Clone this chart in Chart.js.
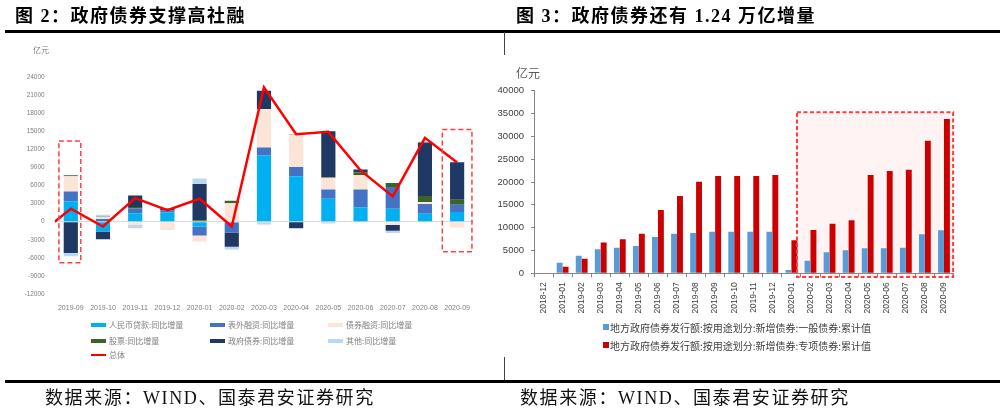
<!DOCTYPE html>
<html><head><meta charset="utf-8">
<script src="https://cdn.jsdelivr.net/npm/chart.js@4/dist/chart.umd.min.js"></script>
<style>
html,body{margin:0;padding:0;background:#fff;}
#wrap{position:relative;width:1000px;height:413px;overflow:hidden;font-family:"Liberation Sans","Noto Sans CJK SC",sans-serif;}
canvas{position:absolute;top:0;}
.abs{position:absolute;white-space:nowrap;}
.title{top:6px;font-family:"Liberation Serif","Noto Sans CJK SC",serif;font-weight:700;font-size:18px;letter-spacing:1.5px;line-height:20px;color:#000;}
.src{top:387px;font-family:"Liberation Serif","Noto Sans CJK SC",serif;font-size:18px;line-height:22px;color:#111;letter-spacing:1.6px;}
.rule{background:#000;}
.vline{background:#444;width:1px;}
</style></head>
<body><div id="wrap">
<canvas id="left" width="480" height="413" style="left:0"></canvas>
<canvas id="right" width="520" height="413" style="left:480px"></canvas>
<div class="abs title" style="left:15px">图 2：政府债券支撑高社融</div>
<div class="abs title" style="left:516px">图 3：政府债券还有 1.24 万亿增量</div>
<div class="abs rule" style="left:5px;top:30px;width:995px;height:3px"></div>
<div class="abs vline" style="left:504px;top:32px;height:23px"></div>
<div class="abs vline" style="left:504px;top:357px;height:24px"></div>
<div class="abs rule" style="left:5px;top:380px;width:995px;height:3px"></div>
<div class="abs src" style="left:45px">数据来源：WIND、国泰君安证券研究</div>
<div class="abs src" style="left:520px">数据来源：WIND、国泰君安证券研究</div>
<div class="abs" style="left:33px;top:44px;font-size:8px;color:#7f7f7f;font-family:'Noto Sans CJK SC'">亿元</div>
<div class="abs" style="left:516px;top:64px;font-size:12px;color:#595959;font-family:'Noto Sans CJK SC'">亿元</div>
<div id="legL"></div>
<div id="legR"></div>
</div>
<script>
// ---------- Left chart data (亿元, 同比增量) ----------
const leftCategories = ['2019-09','2019-10','2019-11','2019-12','2020-01','2020-02','2020-03','2020-04','2020-05','2020-06','2020-07','2020-08','2020-09'];
const loans      = [3400,-1650, 1400, 1550, -800, -150,11000, 7550, 3800, 2400, 2150, 1300, 1600];
const offBalance = [1600,  450,  800,  300,-1500,-1650, 1300, 1500, 1550, 2950, 3600, 1650, 1200];
const bondFin    = [2550,  300, -550,-1250,-1000, 3050, 6400, 5400, 1950, 2350, -550,  300, -950];
const equity     = [ 150,   50,  250,    0,  200,  400,    0,  100,  100,  450,  650, 1000,  850];
const govBonds   = [-5200,-1250,1900,  350, 6050,-2350, 3000,-1050, 7600,  500, -950, 8900, 6200];
const others     = [-550,  350, -550, -100,  900, -450, -450, -150, -300, -100, -400,  150,    0];
const total      = [2150, -800, 3900, 1900, 3800, -800,22300,14500,14900, 8500, 4200,13900, 9800];
const totalLeadIn = 0;   // line starts from zero at the left edge of the plot
const leftYTicks = {min:-12000, max:24000, step:3000};
const leftHighlights = [
  {from:-0.37, to:0.31, top:13400, bottom:-6800},
  {from:11.54, to:12.46, top:15300, bottom:-5000}
];

// ---------- Right chart data (亿元, 累计值) ----------
const rightCategories = ['2018-12','2019-01','2019-02','2019-03','2019-04','2019-05','2019-06','2019-07','2019-08','2019-09','2019-10','2019-11','2019-12','2020-01','2020-02','2020-03','2020-04','2020-05','2020-06','2020-07','2020-08','2020-09'];
const generalBonds = [0,2300,3870,5250,5620,5980,7950,8690,8830,9120,9120,9120,9120, 730,2770, 4600, 5040, 5470, 5470, 5620, 8540, 9420];
const specialBonds = [0,1450,3210,6720,7450,8690,13870,16930,20070,21310,21310,21310,21530,7230,9490,10880,11610,21530,22410,22700,29050,33800];
const rightYTicks = {min:0, max:40000, step:5000};
const rightHighlights = [{from:13.29, to:21.48, top:35300, bottom:-800}];

const leftSeries = [
  {name:'人民币贷款:同比增量', data:loans, color:'#00b0f0'},
  {name:'表外融资:同比增量', data:offBalance, color:'#4472c4'},
  {name:'债券融资:同比增量', data:bondFin, color:'#fce4d6'},
  {name:'股票:同比增量', data:equity, color:'#38632a'},
  {name:'政府债券:同比增量', data:govBonds, color:'#203864'},
  {name:'其他:同比增量', data:others, color:'#bdd7ee'}
];
const totalName = '总体';
const rightSeries = [
  {name:'地方政府债券发行额:按用途划分:新增债券:一般债券:累计值', data:generalBonds, color:'#5b9bd5'},
  {name:'地方政府债券发行额:按用途划分:新增债券:专项债券:累计值', data:specialBonds, color:'#cc0000'}
];

function rectPix(chart, r){
  const xs = chart.scales.x, ys = chart.scales.y;
  const x0=xs.getPixelForValue(r.from), x1=xs.getPixelForValue(r.to);
  const y0=ys.getPixelForValue(r.top), y1=ys.getPixelForValue(r.bottom);
  return [x0,y0,x1-x0,y1-y0];
}
const rectPlugin = {
  id:'rects',
  beforeDatasetsDraw(chart, args, opts){
    if(!opts.fill) return;
    const c = chart.ctx;
    (opts.items||[]).forEach(r=>{ const p=rectPix(chart,r); c.save(); c.fillStyle=opts.fill; c.fillRect(...p); c.restore(); });
  },
  afterDatasetsDraw(chart, args, opts){
    const c = chart.ctx;
    (opts.items||[]).forEach(r=>{ const p=rectPix(chart,r); c.save(); c.strokeStyle=opts.stroke; c.lineWidth=opts.width; c.setLineDash(opts.dash); c.strokeRect(...p); c.restore(); });
  }
};

const sans = "'Liberation Sans', 'Noto Sans CJK SC', sans-serif";

new Chart(document.getElementById('left'), {
  type:'bar',
  data:{
    datasets:[
      ...leftSeries.map(s=>({type:'bar', label:s.name, data:s.data.map((v,i)=>({x:i, y:v})), backgroundColor:s.color, borderWidth:0,
        stack:'s', barPercentage:0.44, categoryPercentage:1, order:1})),
      {type:'line', label:totalName, order:0,
       data:[{x:-0.5, y:totalLeadIn}, ...total.map((v,i)=>({x:i, y:v}))],
       borderColor:'#ff0000', borderWidth:2.5, pointRadius:0, tension:0, fill:false}
    ]
  },
  options:{
    responsive:false, animation:false, devicePixelRatio:1,
    layout:{padding:{left:0, right:0.7, top:77, bottom:94}},
    plugins:{legend:{display:false}, tooltip:{enabled:false},
      rects:{items:leftHighlights, stroke:'#ff4040', width:1.5, dash:[5,3]}},
    scales:{
      x:{type:'linear', min:-0.5, max:12.5, offset:false, stacked:true,
         grid:{display:false, drawTicks:false}, border:{display:false},
         afterBuildTicks(s){ s.ticks = leftCategories.map((_,i)=>({value:i})); },
         ticks:{font:{size:7, family:sans}, color:'#7f7f7f', padding:10, autoSkip:false, maxRotation:0, minRotation:0,
                callback:v=>leftCategories[Math.round(v)] || ''},
         afterFit(s){s.height=25;}},
      y:{stacked:true, min:leftYTicks.min, max:leftYTicks.max,
         ticks:{stepSize:leftYTicks.step, font:{size:6.5, family:sans}, color:'#7f7f7f', padding:10, callback:v=>String(v)},
         grid:{drawTicks:false, lineWidth:1, color:ctx=>ctx.tick && ctx.tick.value===0 ? '#d9d9d9' : 'rgba(0,0,0,0)'},
         border:{display:false},
         afterFit(s){s.width=54.7;}}
    }
  },
  plugins:[rectPlugin]
});

new Chart(document.getElementById('right'), {
  type:'bar',
  data:{
    labels:rightCategories,
    datasets:rightSeries.map(s=>({label:s.name, data:s.data, backgroundColor:s.color, borderWidth:0,
      barPercentage:1.0, categoryPercentage:0.62}))
  },
  options:{
    responsive:false, animation:false, devicePixelRatio:1,
    layout:{padding:{left:0, right:46.5, top:90.7, bottom:94.7}},
    plugins:{legend:{display:false}, tooltip:{enabled:false},
      rects:{items:rightHighlights, fill:'rgba(255,90,90,0.07)', stroke:'#ff3b3b', width:2, dash:[4,2.5]}},
    scales:{
      x:{type:'category', offset:true,
         grid:{display:true, drawOnChartArea:false, drawTicks:true, tickLength:4, color:'#868686', offset:true},
         border:{display:true, color:'#868686'},
         ticks:{font:{size:8.5, family:sans}, color:'#404040', padding:5, autoSkip:false, minRotation:90, maxRotation:90},
         afterFit(s){s.height=45;}},
      y:{min:rightYTicks.min, max:rightYTicks.max,
         ticks:{stepSize:rightYTicks.step, font:{size:9.5, family:sans}, color:'#404040', padding:7, callback:v=>String(v)},
         grid:{drawOnChartArea:false, drawTicks:true, tickLength:3, color:'#868686'},
         border:{display:true, color:'#868686'},
         afterFit(s){s.width=54;}}
    }
  },
  plugins:[rectPlugin]
});

// ---------- HTML legends ----------
(function(){
  const legL = document.getElementById('legL');
  const colX = [91,210,328], rowY = [325,341,355];
  const items = leftSeries.map(s=>({name:s.name, color:s.color, h:4})).concat([{name:totalName, color:'#ff0000', h:2.5}]);
  items.forEach((it,i)=>{
    const x = colX[i%3], y = rowY[Math.floor(i/3)];
    const m = document.createElement('div');
    m.className='abs'; m.style.cssText=`left:${x}px;top:${y-it.h/2}px;width:15px;height:${it.h}px;background:${it.color}`;
    legL.appendChild(m);
    const t = document.createElement('div');
    t.className='abs'; t.textContent=it.name;
    t.style.cssText=`left:${x+18}px;top:${y-6}px;font-size:8px;line-height:12px;color:#7f7f7f;font-family:'Noto Sans CJK SC',sans-serif`;
    legL.appendChild(t);
  });
  const legR = document.getElementById('legR');
  const rows = [327,345];
  rightSeries.forEach((s,i)=>{
    const y = rows[i];
    const m = document.createElement('div');
    m.className='abs'; m.style.cssText=`left:603px;top:${y-3}px;width:6px;height:6px;background:${s.color}`;
    legR.appendChild(m);
    const t = document.createElement('div');
    t.className='abs'; t.textContent=s.name;
    t.style.cssText=`left:610px;top:${y-7.5}px;font-size:10px;line-height:15px;color:#404040;font-family:'Noto Sans CJK SC',sans-serif`;
    legR.appendChild(t);
  });
})();
</script>
</body></html>
